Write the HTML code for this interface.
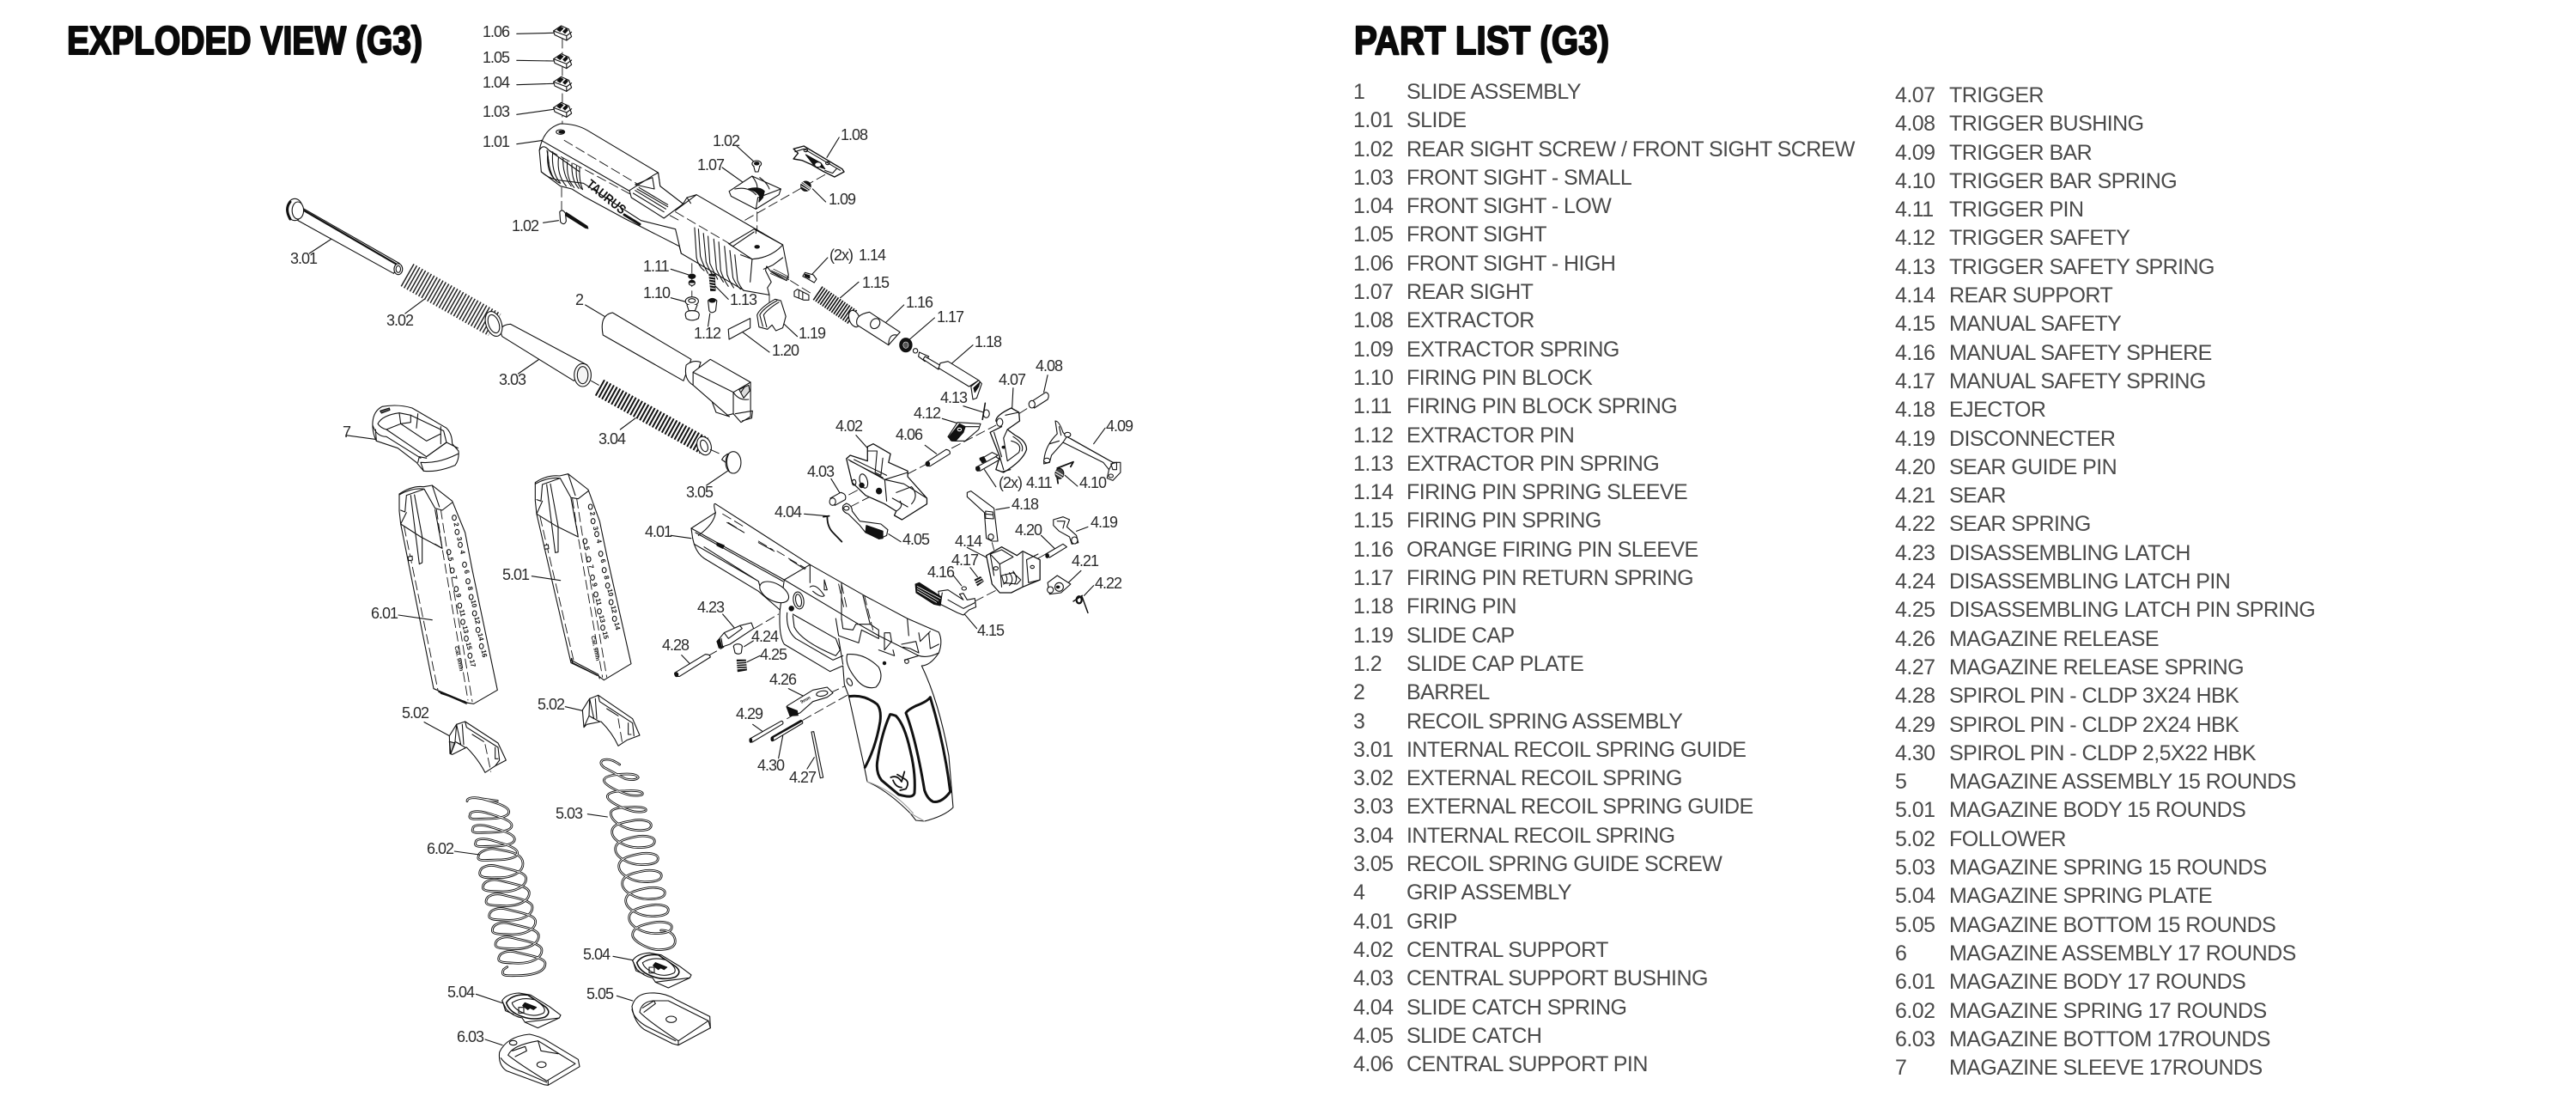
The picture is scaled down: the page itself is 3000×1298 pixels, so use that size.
<!DOCTYPE html>
<html><head><meta charset="utf-8"><style>
html,body{margin:0;padding:0;background:#fff}
body{width:3000px;height:1298px;position:relative;overflow:hidden}
svg{position:absolute;left:0;top:0}
svg path,svg line,svg ellipse,svg polygon,svg polyline,svg circle,svg rect{vector-effect:non-scaling-stroke}
.t{font:bold 46px "Liberation Sans",sans-serif;fill:#0a0a0a;stroke:#0a0a0a;stroke-width:2px}
.l text,text.l{font:18px "Liberation Sans",sans-serif;fill:#2a2a2a;letter-spacing:-1px}
.d{stroke-dasharray:11 5;stroke-width:.9;fill:none}
.n{fill:none}
.k{fill:#111}
.z{fill:none;stroke:#1a1a1a}
.h{stroke-width:3;fill:none}
.mn text{font:bold 24px "Liberation Sans",sans-serif;fill:#111;stroke:none}
.col{position:absolute;font:25px/33.3px "Liberation Sans",sans-serif;color:#4a4a4a;letter-spacing:-.55px;white-space:nowrap}
.col span{display:inline-block;width:62px}
</style></head><body>
<svg width="3000" height="1298" viewBox="0 0 3000 1298" fill="#fff" stroke="#111" stroke-width="1.1" stroke-linejoin="round" stroke-linecap="round">
<defs>
<g id="sight"><path d="M772,108 L792,90 L812,102 L819,128 L806,141 L775,122 Z"/><path class="k" d="M782,104 L790,94 L797,99 L789,110 Z M797,110 L805,100 L809,106 L802,116 Z"/><path class="n" d="M772,108 L806,125 L806,141 M806,125 L819,112"/></g>
<g id="plate"><path d="M950,805 Q965,780 1010,778 L1050,785 L1115,825 L1155,855 L1150,865 L1075,900 L1030,880 L1020,865 Q990,860 965,835 Z"/><path d="M965,812 Q985,780 1040,785 L1100,825 Q1125,845 1100,862 Q1060,875 1020,860 Q975,845 965,812 Z" stroke-width="1.6"/><path d="M985,812 Q1020,790 1065,802 Q1110,830 1095,848 Q1065,862 1035,852 Q990,835 985,812 Z"/><path class="k" d="M1030,812 L1070,828 L1060,836 L1048,830 L1040,836 L1022,822 Z"/><rect x="1008" y="828" width="18" height="20" class="n"/><path class="n" d="M952,808 L962,840 L990,852 M1030,880 L1150,865"/></g>
</defs>
<text class="t" x="78" y="63" textLength="414" lengthAdjust="spacingAndGlyphs">EXPLODED VIEW (G3)</text>
<text class="t" x="1577" y="63" textLength="297" lengthAdjust="spacingAndGlyphs">PART LIST (G3)</text>

<!-- ZOOM 1 SPACE -->
<g transform="translate(300,0) scale(.44643,.33333)">
<path class="d" d="M795,135 V455 M793,655 V735 M1480,610 L1270,770 M1303,740 V850 M1133,920 V1040 M1335,1030 V1065 M1390,980 L1450,1030"/>
<use href="#sight"/><use href="#sight" y="98"/><use href="#sight" y="178"/><use href="#sight" y="268"/>
<path d="M676,118 L772,115 M676,211 L772,213 M676,296 L772,292 M676,400 L772,382 M676,503 L745,490 M745,778 L785,770 M1250,510 L1295,565 M1212,585 L1280,650 M1485,550 L1517,480 M1448,660 L1482,705 M1078,940 L1125,960 M1078,1040 L1120,1055 M1195,1000 L1228,1045 M1180,1095 L1175,1140 M1360,1115 L1408,1175 M1260,1155 L1335,1230 M1445,960 L1487,900 M1520,1040 L1568,985 M855,1065 L905,1105 M215,815 L135,885 M435,1045 L385,1095 M745,1245 L680,1305"/>
<!-- slide -->
<path d="M740,600 L735,525 Q745,450 790,432 Q830,432 860,455 L1045,603 L1050,650 L1110,712 L1120,690 L1145,680 L1370,855 L1385,960 L1380,980 L1340,950 L1328,930 L1325,945 L1340,985 L1330,1005 L1335,1030 L1270,1015 L1105,885 L1100,860 L1005,795 L960,765 L850,685 L820,660 L790,650 Z"/>
<path class="n" d="M740,600 Q760,625 790,630 L850,640 L1000,770 L1090,800 L1105,885 M735,525 Q745,500 760,525 L840,600 M740,490 L1000,690 M755,525 L760,570"/>
<path class="d" d="M760,525 L1100,770 M800,490 L1000,650 M1090,740 L1230,850"/>
<path class="n" d="M757,530 Q752,600 778,630 M770,530 Q765,600 790,640 Q762,630 757,540 M785,550 Q780,610 805,650 M797,553 Q795,610 818,650 M808,565 Q805,625 826,655 M820,570 Q818,630 838,658 M832,580 Q828,630 845,660 M840,585 Q838,630 848,662"/>
<path d="M790,455 m-11,6 a11,8 0 1,0 22,0 a11,8 0 1,0 -22,0" class="n"/><ellipse cx="793" cy="461" rx="7" ry="4" class="k"/>
<!-- ejection port -->
<path d="M970,665 L1035,610 L1045,603 L1050,650 L1110,712 L1060,762 L975,690 Z"/>
<path class="n" d="M985,645 L1030,620 L1035,660 Z M985,665 L1065,730 M990,660 L1070,722 M980,675 L1060,740 M995,655 L1070,715"/>
<path class="n" d="M1090,735 L1145,680 M1120,690 L1130,710"/>
<!-- rear serrations -->
<path class="n" d="M1140,795 L1145,900 Q1150,930 1165,945 M1150,800 L1155,895 Q1162,925 1175,955 M1163,815 L1170,915 Q1178,945 1190,965 M1175,825 L1180,920 Q1190,950 1200,975 M1190,835 L1197,940 Q1205,965 1215,985 M1203,845 L1208,945 Q1215,975 1228,1000 M1218,860 L1225,960 Q1232,985 1242,1005 M1232,875 L1240,970 Q1248,995 1260,1010 M1245,890 L1252,980 Q1258,1000 1268,1015"/>
<path d="M1230,852 L1295,800 L1370,855 Q1340,900 1290,905 Z"/>
<path class="n" d="M1228,850 L1240,860 L1295,810 M1260,890 L1290,905 L1285,985 M1300,800 V815"/>
<ellipse cx="1303" cy="862" rx="6" ry="5" class="k"/>
<path class="n" stroke-width=".8" d="M1340,945 L1386,972 M1342,950 L1386,977 M1346,940 L1386,967 M1338,955 L1380,980"/>
<path class="n" d="M1320,940 L1345,925 L1370,900"/>
<!-- rear sight -->
<path d="M1230,668 L1290,615 L1365,660 L1360,680 L1300,730 L1235,685 Z"/>
<path class="n" d="M1290,615 Q1310,650 1300,665 M1245,660 Q1280,650 1300,680 M1300,730 L1305,690 L1365,660 M1310,620 Q1330,640 1335,660"/>
<path class="k" d="M1280,660 Q1310,650 1322,668 L1318,690 L1308,705 L1310,685 Q1300,665 1280,660Z"/>
<!-- screw 1.02 -->
<ellipse cx="1302" cy="572" rx="12" ry="11"/><path d="M1294,580 L1298,600 L1306,600 L1310,580"/><ellipse cx="1302" cy="571" rx="6" ry="5" class="k"/>
<!-- extractor -->
<path d="M1398,520 L1425,510 L1525,590 L1530,600 L1505,618 L1475,598 L1445,575 L1420,560 L1398,555 L1410,535 Z" stroke-width="1.4"/>
<path class="k" d="M1430,540 L1470,570 L1480,590 L1450,575 Z"/><circle cx="1462" cy="575" r="9"/><circle cx="1430" cy="525" r="5" class="n"/><circle cx="1487" cy="570" r="5" class="n"/>
<path class="n" d="M1402,530 L1425,520 L1520,595 M1480,595 L1500,605 L1510,590"/>
<!-- spring 1.09 -->
<ellipse cx="1430" cy="650" rx="13" ry="17" class="k"/><path d="M1418,640 L1440,660 M1422,636 L1442,656 M1418,650 L1436,664" stroke="#fff"/>
<!-- lower 1.02 -->
<path d="M788,740 Q795,728 803,745 L805,772 Q800,790 790,775 Z"/><path class="k" d="M805,742 L860,790 L862,798 L855,796 L803,752 Z"/>
<!-- 1.11/1.10/1.12/1.13 -->
<ellipse cx="1133" cy="965" rx="9" ry="8" class="k"/><ellipse cx="1133" cy="988" rx="8" ry="9"/><path class="k" d="M1127,982 h12 v5 h-12z"/>
<ellipse cx="1133" cy="1052" rx="17" ry="15"/><ellipse cx="1133" cy="1050" rx="9" ry="7" class="n"/><path d="M1120,1065 L1125,1085 L1141,1085 L1147,1065"/><path d="M1116,1100 Q1115,1085 1133,1085 Q1152,1085 1152,1100 L1150,1112 Q1133,1125 1118,1112 Z"/>
<path class="k" d="M1178,958 L1192,958 L1194,1015 L1182,1015 Z"/><path d="M1178,965 L1192,968 M1178,975 L1192,978 M1180,985 L1192,988 M1180,995 L1192,998 M1180,1005 L1193,1008" stroke="#fff"/>
<path d="M1175,1050 Q1186,1035 1198,1050 L1195,1085 Q1185,1098 1178,1085 Z"/><ellipse cx="1186" cy="1050" rx="8" ry="6" class="k"/>
<!-- 1.19/1.20 -->
<path d="M1303,1100 Q1310,1075 1350,1045 L1365,1050 L1378,1105 L1370,1145 L1352,1155 L1342,1135 L1330,1150 L1308,1142 Z"/>
<path class="n" d="M1318,1140 L1310,1100 Q1320,1075 1355,1050 M1328,1142 L1320,1100 Q1330,1080 1360,1055"/>
<path d="M1228,1150 L1285,1112 L1285,1145 L1230,1185 Z"/>
<!-- firing pin block etc -->
<path d="M1422,965 L1428,952 L1450,960 L1458,975 L1452,987 L1430,970 Z"/><path class="k" d="M1428,958 L1440,962 L1440,972 L1428,965Z"/>
<path d="M1400,1018 L1408,1010 L1438,1030 L1438,1048 L1425,1048 L1400,1035 Z"/><path class="n" d="M1412,1014 L1412,1040 M1422,1020 L1422,1045"/>
<!-- recoil guide 3.01 -->
<path d="M115,725 L370,920 L355,955 L105,770 Z"/><path class="n" d="M118,733 L365,925" stroke-width="2.2"/>
<ellipse cx="97" cy="732" rx="21" ry="38"/><ellipse cx="105" cy="735" rx="15" ry="30"/><path class="h" d="M85,705 Q70,730 85,765"/>
<ellipse cx="367" cy="940" rx="11" ry="19"/><ellipse cx="367" cy="940" rx="6" ry="12" class="n"/>
<!-- 3.03 -->
<path d="M660,1132 L860,1275 L825,1330 L638,1175 Q625,1135 660,1132 Z"/>
<ellipse cx="848" cy="1310" rx="22" ry="40"/><ellipse cx="848" cy="1310" rx="14" ry="30" fill="#f5f5f5"/>
<path class="d" d="M870,1330 L890,1345"/>
</g>

<!-- absolute springs -->
<line x1="474" y1="320" x2="576" y2="378" stroke="#222" stroke-width="30" stroke-dasharray="1.5 2.4" stroke-linecap="butt"/>
<ellipse cx="575" cy="377" rx="9" ry="15" transform="rotate(-20 575 377)"/><ellipse cx="575" cy="377" rx="6" ry="11" transform="rotate(-20 575 377)"/>
<line x1="952" y1="341" x2="994" y2="370" stroke="#111" stroke-width="19" stroke-dasharray="1.6 1.6" stroke-linecap="butt"/>
<ellipse cx="995" cy="371" rx="6" ry="10" transform="rotate(-20 995 371)"/>
<line x1="698" y1="451" x2="820" y2="519" stroke="#111" stroke-width="21" stroke-dasharray="2 2.2" stroke-linecap="butt"/>
<ellipse cx="820" cy="519" rx="8" ry="11" transform="rotate(-20 820 519)"/><ellipse cx="820" cy="519" rx="4" ry="7" transform="rotate(-20 820 519)"/>

<!-- TAURUS -->
<text transform="translate(682,216) rotate(39)" style="font:bold 15px 'Liberation Sans',sans-serif" fill="#111" stroke="none" textLength="54" lengthAdjust="spacingAndGlyphs">TAURUS</text>
<line x1="727" y1="250" x2="745" y2="261" stroke="#111" stroke-width="3" stroke-dasharray="2 1"/>

<!-- ZOOM 2 SPACE -->
<g transform="translate(700,350) scale(.44643,.33333)">
<path class="d" d="M615,700 L700,640 M650,720 L730,665 M800,605 L850,570 M915,515 L1030,435 M1090,395 L1125,365 M1140,900 L1160,885 M1020,845 L1025,870 M975,1050 L1040,1005 M285,520 L310,535 M280,1240 L320,1210"/>
<path d="M330,595 L275,645 M90,410 L50,450 M740,80 L790,15 M805,135 L870,60 M910,225 L970,155 M1075,305 L1072,380 M1165,260 L1155,320 M945,368 L998,390 M890,412 L930,428 M845,505 L875,535 M695,515 L665,470 M600,622 L622,670 M530,745 L590,752 M750,815 L782,842 M1000,590 L1030,650 M1285,500 L1315,445 M1210,610 L1243,648 M1030,730 L1065,722 M1240,805 L1270,790 M1185,868 L1148,820 M955,862 L1010,900 M963,932 L982,965 M918,958 L940,995 M945,1090 L980,1145 M1215,990 L1252,943 M1260,1030 L1285,995 M182,820 L235,830 M210,1238 L240,1280 M835,1285 L855,1350"/>
<!-- barrel -->
<path d="M5,120 Q-5,50 30,42 L235,205 L215,280 Z"/>
<path d="M222,225 Q240,205 260,215 L240,295 Q215,275 222,225 Z"/>
<path d="M240,250 L285,205 L390,285 L390,405 L365,425 L345,395 L330,400 L240,295 Z"/>
<path class="n" d="M240,250 L345,320 L390,285 M345,320 L345,395 M365,320 L375,300 M345,320 Q360,350 385,345 M350,395 L395,385 L393,410 L368,420 M290,355 L300,390 L335,405 L328,400"/>
<path class="k" d="M360,310 L385,295 L388,315 L372,340 Z" fill-opacity=".15"/>
<!-- 1.16 -->
<path d="M700,40 L780,110 L770,125 L750,155 L668,85 Q660,50 700,40 Z"/><ellipse cx="715" cy="80" rx="12" ry="18" transform="rotate(15 715 80)"/><path class="n" d="M750,155 Q750,115 772,120"/>
<!-- 1.17 -->
<ellipse cx="795" cy="155" rx="16" ry="24" class="k"/><ellipse cx="795" cy="155" rx="7" ry="11" stroke="#fff" stroke-width=".6" fill="#555"/>
<!-- 1.18 -->
<ellipse cx="820" cy="175" rx="6" ry="8"/><path d="M830,180 L855,195 L845,212 L828,195 Z"/><path d="M845,195 L890,230 L880,240 L840,205 Z"/><path d="M885,218 Q880,240 880,235 L960,300 L985,278 L905,212 Z"/>
<path d="M965,300 L985,278 L993,290 L980,340 L970,345 Z"/><path class="k" d="M972,305 L988,285 L985,300 L975,320Z"/>
<!-- 3.05 -->
<path d="M320,545 L315,555 L325,565 L340,560 L330,535 Z"/><ellipse cx="345" cy="565" rx="20" ry="38"/><path class="n" d="M333,535 Q322,565 335,598"/>
<!-- 4.08 -->
<path d="M1120,355 L1160,320 Q1172,325 1165,345 L1130,375 Z"/><ellipse cx="1124" cy="362" rx="8" ry="13"/>
<!-- 4.13 -->
<ellipse cx="1005" cy="395" rx="8" ry="14"/><path d="M1002,358 L995,415" stroke-width="1.6"/>
<!-- 4.12 -->
<path d="M905,475 L930,425 L990,430 L985,450 L950,490 L915,490 Z"/><path class="k" d="M908,475 L935,430 L950,440 L945,460 L925,490 L912,488Z"/><circle cx="935" cy="450" r="5" stroke="#fff" class="n"/><path class="n" d="M950,440 L985,440"/>
<!-- 4.06 -->
<path d="M848,565 L900,520 Q912,522 910,535 L858,578 Q845,578 848,565 Z"/><ellipse cx="852" cy="570" rx="5" ry="8" class="k"/>
<!-- 4.07 -->
<path d="M1030,420 Q1030,400 1070,375 L1090,390 L1092,420 L1060,450 L1080,470 Q1110,490 1110,520 Q1100,560 1050,600 L1030,590 L1040,545 L1015,460 L1045,440 Z" stroke-width="1.3"/>
<ellipse cx="1040" cy="425" rx="8" ry="14"/><path class="n" d="M1055,400 L1090,390 M1060,450 L1050,480 L1060,560 L1090,530 Q1100,500 1070,490 M1040,545 L1050,590 M1068,590 L1045,598 M1025,460 L1045,545 M1075,475 Q1105,500 1098,525"/><circle cx="1050" cy="512" r="4" class="k"/>
<!-- 4.11 pins -->
<path d="M988,555 L1020,530 L1035,540 L1000,570 Z"/><path class="k" d="M988,550 L998,545 L1004,560 L994,566Z"/>
<path d="M978,582 L1030,545 L1040,555 L988,595 Z"/><ellipse cx="983" cy="587" rx="5" ry="8" class="k"/>
<!-- 4.09 -->
<path d="M1185,420 Q1195,420 1205,460 L1215,475 L1335,565 L1355,565 L1355,600 L1335,628 L1320,620 L1325,590 L1310,565 L1205,495 L1175,540 L1170,565 L1155,570 Q1155,510 1190,465 Z"/>
<path class="n" d="M1215,475 L1205,495 M1225,482 L1335,565 L1325,590 M1170,500 L1195,490 M1195,440 L1200,470"/><circle cx="1217" cy="468" r="8"/><circle cx="1163" cy="558" r="8"/><circle cx="1330" cy="612" r="6"/><path class="n" d="M1330,570 L1345,565 L1345,590 L1335,590 Z"/>
<!-- 4.10 -->
<ellipse cx="1196" cy="604" rx="11" ry="18" fill="#444"/><path d="M1186,595 L1205,610 M1186,605 L1205,620" stroke="#fff"/><path class="n" stroke-width="1.8" d="M1190,585 L1232,563 L1225,580 M1190,620 L1192,638"/>
<!-- 4.02 -->
<path d="M640,552 L650,540 L695,560 L695,510 L710,500 L755,535 L750,565 L800,595 L800,615 L850,690 L850,710 L785,765 L765,750 L770,735 L740,710 L690,680 L655,635 Z" stroke-width="1.3"/>
<path class="n" d="M645,555 L740,625 L800,600 M740,625 L745,700 M650,560 L735,618 M660,555 L745,610 M720,525 L715,600 L730,610 L735,550 M695,525 L720,525 M740,625 L790,640 L850,690 M770,670 L810,650 Q830,680 810,710 M770,735 Q790,720 780,700 M760,690 L800,720"/>
<ellipse cx="685" cy="630" rx="10" ry="25" transform="rotate(-10 685 630)"/><ellipse cx="680" cy="645" rx="6" ry="8" class="k"/><ellipse cx="660" cy="635" rx="5" ry="10" class="n"/><ellipse cx="725" cy="665" rx="7" ry="10" class="k"/>
<!-- 4.03 -->
<path d="M598,690 L625,670 Q642,675 637,695 L610,715 Z"/><ellipse cx="604" cy="702" rx="8" ry="13"/>
<!-- 4.04 -->
<path class="n" stroke-width="1.8" d="M580,755 L595,752 M590,755 Q590,790 605,810 L628,842"/>
<!-- 4.05 -->
<path d="M640,708 Q655,715 655,735 L675,770 L730,780 L748,800 L745,820 L725,832 L690,810 L675,785 L645,745 Q625,735 632,715 Z"/><circle cx="640" cy="725" r="7" class="n"/><path class="k" d="M692,785 L735,805 L735,830 L725,832 L690,808 Z"/>
<!-- 4.18 -->
<path d="M955,670 L965,665 L1025,725 L1035,840 L1020,840 L1005,830 L1000,740 L955,685 Z"/><ellipse cx="1017" cy="825" rx="7" ry="10"/><path class="n" d="M1003,735 L1022,738 L1024,762 L1003,760Z M1003,745 L1023,748"/>
<!-- 4.19 -->
<path d="M1180,765 L1205,755 L1222,765 L1215,790 L1240,820 L1245,845 L1228,850 L1222,825 L1195,805 L1180,785 Z"/><ellipse cx="1235" cy="837" rx="8" ry="12"/><path class="n" d="M1190,770 L1210,770 L1205,795"/>
<!-- 4.20 -->
<path d="M1160,885 L1205,850 L1215,860 L1170,897 Z"/><ellipse cx="1164" cy="891" rx="4" ry="7" class="k"/>
<!-- 4.14 -->
<path d="M1005,890 L1045,860 L1085,890 L1100,875 L1145,905 L1145,975 L1100,1000 L1070,1020 L1040,1020 L1020,990 Z" stroke-width="1.3"/>
<path class="n" d="M1015,885 L1045,870 L1075,895 L1040,920 Z M1015,885 L1025,960 M1040,920 L1045,1000 M1100,880 L1100,1000 M1110,905 L1140,885 M1110,905 L1115,985 L1145,975"/>
<path class="n" d="M1045,960 L1075,950 L1095,975 L1085,990 L1050,985Z M1055,955 Q1065,980 1050,990 M1065,950 Q1080,975 1065,995 M1075,945 Q1090,970 1078,990"/><circle cx="1030" cy="935" r="6" class="n"/><circle cx="1125" cy="930" r="5" class="n"/>
<!-- 4.17/4.16 -->
<path class="k" d="M975,975 L990,965 L997,980 L982,995 Z"/><path d="M975,982 L992,970 M978,990 L995,978" stroke="#fff"/><circle cx="947" cy="1005" r="6"/>
<!-- 4.15 -->
<path d="M880,1015 L905,1010 L945,1045 L935,1025 L945,1022 L955,1045 L975,1040 L978,1070 L960,1080 L945,1098 L930,1090 L885,1060 Z"/>
<path class="k" d="M820,990 L830,985 L888,1035 L885,1065 L868,1060 L822,1020 Z"/><path d="M825,998 L885,1040 M825,1006 L880,1048 M825,1014 L875,1054" stroke="#fff" stroke-width=".8"/>
<path class="n" d="M890,1020 L885,1060 M905,1045 L945,1075 L975,1055"/>
<!-- 4.21 -->
<path d="M1165,985 L1190,960 L1225,990 L1200,1020 L1170,1025 Z"/><ellipse cx="1195" cy="1000" rx="11" ry="15"/><ellipse cx="1172" cy="1010" rx="8" ry="11"/><circle cx="1192" cy="1000" r="4" class="k"/>
<!-- 4.22 -->
<ellipse cx="1247" cy="1045" rx="8" ry="14" class="k"/><ellipse cx="1247" cy="1045" rx="3" ry="7" stroke="#fff"/><path class="n" stroke-width="1.5" d="M1255,1035 L1270,1090 M1232,1050 L1255,1030"/>
<!-- 4.28 -->
<path d="M192,1300 L272,1235 Q285,1235 285,1245 L205,1312 Q190,1315 192,1300 Z"/><ellipse cx="197" cy="1306" rx="4" ry="7" class="k"/>
</g>

<!-- ZOOM 3 SPACE -->
<g transform="translate(350,450) scale(.33333)">
<!-- 7 sleeve -->
<path d="M158,170 L303,190"/>
<path d="M252,125 Q255,85 285,70 Q340,60 390,75 L510,145 Q530,165 530,200 L552,225 Q555,255 540,275 Q480,300 430,295 L405,265 L340,215 L265,190 Q250,160 252,125 Z"/>
<path d="M270,130 Q285,100 345,92 L385,100 L500,155 L510,195 L440,245 L300,150 Q280,145 270,130 Z"/>
<path class="n" d="M252,135 Q265,175 300,175 L420,250 M345,92 L350,130 L300,150 M385,100 L385,125 L350,130 L440,190 L490,165 M410,95 L405,145 M490,140 L490,200 M440,245 L510,195 L550,215 M430,295 L420,265 Q480,270 550,235 M265,190 L262,150 M410,265 L415,245 L440,250"/>
<path class="k" d="M278,85 L310,75 L312,82 L283,93Z" fill-opacity=".7"/>
<!-- mag 6 -->
<path d="M345,375 L345,435 L350,480 L465,1055 L585,1105 L605,1108 L688,1060 L600,640 L575,510 L530,400 L460,345 L430,350 Q390,345 345,375 Z"/>
<path class="n" d="M345,378 Q390,352 432,358 L470,425 L495,432 L530,405 M460,345 L485,420 M432,358 L370,380 L365,438 L350,432 M385,380 L415,620 L425,615 L425,525 M398,378 L425,525 M350,480 L420,525 L495,565 L470,430 M470,550 L495,565 M350,480 L370,440 M465,1055 L585,1105 M485,1065 L580,1108 M490,1072 L575,1100"/>
<path class="d" d="M362,490 L480,1060 M475,430 L495,565 L585,1095 M490,430 L510,560 L600,1100"/>
<path stroke-width="1.5" class="n" d="M483,1066 L578,1106"/>
<path d="M375,595 L390,592 L391,606 L378,608 Z"/>
<path d="M342,798 L460,815"/>
<g class="n"><ellipse cx="537" cy="458" rx="7" ry="9"/><ellipse cx="547" cy="508" rx="7" ry="9"/><ellipse cx="558" cy="553" rx="7" ry="9"/><ellipse cx="518" cy="578" rx="7" ry="9"/><ellipse cx="530" cy="642" rx="7" ry="9"/><ellipse cx="573" cy="622" rx="7" ry="9"/><ellipse cx="585" cy="680" rx="7" ry="9"/><ellipse cx="544" cy="707" rx="7" ry="9"/><ellipse cx="596" cy="735" rx="7" ry="9"/><ellipse cx="556" cy="765" rx="7" ry="9"/><ellipse cx="608" cy="792" rx="7" ry="9"/><ellipse cx="567" cy="822" rx="7" ry="9"/><ellipse cx="620" cy="850" rx="7" ry="9"/><ellipse cx="579" cy="880" rx="7" ry="9"/><ellipse cx="632" cy="907" rx="7" ry="9"/><ellipse cx="592" cy="940" rx="7" ry="9"/></g>
<g class="mn"><text transform="translate(535,477) rotate(78)">2</text><text transform="translate(546,527) rotate(78)">3</text><text transform="translate(557,573) rotate(78)">4</text><text transform="translate(516,598) rotate(78)">5</text><text transform="translate(529,662) rotate(78)">7</text><text transform="translate(572,642) rotate(78)">6</text><text transform="translate(584,700) rotate(78)">8</text><text transform="translate(543,725) rotate(78)">9</text><text transform="translate(595,747) rotate(78)">10</text><text transform="translate(555,780) rotate(78)">11</text><text transform="translate(607,805) rotate(78)">12</text><text transform="translate(566,837) rotate(78)">13</text><text transform="translate(619,863) rotate(78)">14</text><text transform="translate(578,895) rotate(78)">15</text><text transform="translate(631,921) rotate(78)">16</text><text transform="translate(591,955) rotate(78)">17</text><text transform="translate(538,908) rotate(78)" style="font-size:20px">Cal. 9mm</text></g>
<!-- mag 5 -->
<path d="M820,335 L820,398 L825,445 L945,965 L1040,1010 L1060,1025 L1155,968 L1070,590 L1045,470 L1005,360 L935,305 L905,312 Q860,308 820,335 Z"/>
<path class="n" d="M820,340 Q865,315 907,320 L945,388 L970,392 L1005,365 M935,305 L960,380 M907,320 L845,342 L840,400 L825,395 M860,342 L890,580 L900,578 L900,488 M873,340 L900,488 M825,445 L895,488 L970,525 L945,390 M825,445 L845,400 M945,955 L1040,1005 L1045,1020"/>
<path class="d" d="M837,455 L955,960 M950,392 L970,525 L1055,1015 M965,392 L985,520 L1070,1015"/>
<path stroke-width="1.5" class="n" d="M947,950 L950,965 L1035,1008"/>
<path d="M851,555 L865,552 L867,566 L853,568 Z"/>
<path d="M808,662 L908,677"/>
<g class="n"><ellipse cx="1013" cy="420" rx="7" ry="9"/><ellipse cx="1022" cy="470" rx="7" ry="9"/><ellipse cx="1035" cy="515" rx="7" ry="9"/><ellipse cx="994" cy="540" rx="7" ry="9"/><ellipse cx="1007" cy="603" rx="7" ry="9"/><ellipse cx="1049" cy="584" rx="7" ry="9"/><ellipse cx="1061" cy="641" rx="7" ry="9"/><ellipse cx="1020" cy="667" rx="7" ry="9"/><ellipse cx="1073" cy="695" rx="7" ry="9"/><ellipse cx="1032" cy="726" rx="7" ry="9"/><ellipse cx="1085" cy="753" rx="7" ry="9"/><ellipse cx="1044" cy="785" rx="7" ry="9"/><ellipse cx="1097" cy="811" rx="7" ry="9"/><ellipse cx="1056" cy="842" rx="7" ry="9"/></g>
<g class="mn"><text transform="translate(1011,439) rotate(78)">2</text><text transform="translate(1022,490) rotate(78)">3</text><text transform="translate(1034,535) rotate(78)">4</text><text transform="translate(992,560) rotate(78)">5</text><text transform="translate(1006,624) rotate(78)">7</text><text transform="translate(1048,604) rotate(78)">6</text><text transform="translate(1060,662) rotate(78)">8</text><text transform="translate(1019,687) rotate(78)">9</text><text transform="translate(1072,708) rotate(78)">10</text><text transform="translate(1031,741) rotate(78)">11</text><text transform="translate(1084,767) rotate(78)">12</text><text transform="translate(1043,800) rotate(78)">13</text><text transform="translate(1096,825) rotate(78)">14</text><text transform="translate(1055,857) rotate(78)">15</text><text transform="translate(1015,872) rotate(78)" style="font-size:20px">Cal. 9mm</text></g>
<!-- followers -->
<path d="M432,1172 L520,1220 M925,1118 L985,1132"/>
<path d="M522,1282 L520,1220 L545,1180 L575,1170 L690,1245 L718,1305 L680,1325 L645,1348 Q620,1300 580,1260 L530,1285 Z"/>
<path class="n" d="M545,1180 L540,1240 L525,1282 M545,1180 L560,1250 L540,1240 L575,1260 M575,1170 L580,1190 L690,1260 L695,1305 L680,1325 M565,1180 L570,1250 M600,1215 L640,1240 M680,1260 L680,1300 L690,1300"/>
<path class="k" d="M520,1240 L540,1245 L525,1282Z" fill-opacity=".25"/>
<path class="d" d="M645,1250 L665,1345"/>
<path d="M990,1190 L985,1130 L1010,1090 L1040,1078 L1160,1160 L1185,1218 L1140,1235 L1110,1255 Q1090,1210 1050,1170 L1000,1180 Z"/>
<path class="n" d="M1010,1090 L1008,1150 L990,1190 M1010,1090 L1025,1160 L1008,1150 L1045,1170 M1040,1078 L1045,1100 L1160,1175 L1165,1220 M1030,1090 L1035,1160 M1070,1125 L1110,1150 M1145,1175 L1145,1215 L1155,1215"/>
<path class="d" d="M1110,1160 L1125,1250"/>
</g>

<!-- ZOOM 4 SPACE -->
<g transform="translate(420,850) scale(.33333)">
<defs>
<path id="s602" d="M478,247 L400,236 Q372,236 372,248
c0,-14 30,-15 55,-8 c40,12 91,25 91,45 c0,18 -40,24 -70,24 c-35,0 -76,8 -66,-13
c0,-14 30,-15 55,-8 c40,12 91,25 91,45 c0,18 -40,24 -70,24 c-35,0 -76,8 -66,-13
c0,-14 30,-15 55,-8 c40,12 91,25 91,45 c0,18 -40,24 -70,24 c-35,0 -76,8 -66,-13
c0,-14 30,-15 55,-8 c40,12 91,25 91,45 c0,18 -40,24 -70,24 c-35,0 -76,8 -66,-13
c0,-15 35,-30 60,-25 c35,8 95,10 95,52 c0,30 -40,48 -80,48 c-30,0 -71,5 -71,-15
c0,-25 35,-32 60,-25 c35,10 102,18 102,43 c0,30 -40,46 -80,46 c-30,-2 -71,1 -71,-14
c0,-25 35,-32 60,-25 c35,10 102,18 102,43 c0,30 -40,46 -80,46 c-30,-2 -71,1 -71,-14
c0,-25 35,-32 60,-25 c35,10 102,18 102,43 c0,30 -40,46 -80,46 c-30,-2 -71,1 -71,-14
c0,-25 35,-32 60,-25 c35,10 102,18 102,43 c0,30 -40,46 -80,46 c-30,-2 -71,1 -71,-14
c0,-25 35,-32 60,-25 c35,10 102,18 102,43 c0,30 -40,46 -80,46 c-30,-2 -71,1 -71,-14
c0,-25 35,-32 60,-25 c35,10 102,18 102,43 c0,30 -40,46 -80,46 c-30,-2 -71,1 -71,-14
c0,-25 35,-32 60,-25 c35,10 103,18 103,40 c0,35 -60,42 -100,42 c-30,0 -60,5 -45,-22 l12,-8"/>
<path id="s503" d="M905,120 Q870,95 845,105 Q832,115 850,130 L925,170 Q960,178 970,165 Q965,153 930,153 Q852,155 850,175
c0,15 50,42 92,52 c20,3 43,2 43,-5 c0,-10 -30,-12 -60,-10 c-30,0 -63,5 -63,20
c0,15 50,42 92,52 c20,3 43,2 43,-5 c0,-10 -30,-12 -60,-10 c-30,0 -63,5 -63,20
c0,30 45,55 85,60 c30,3 56,0 56,-17 c0,-18 -40,-22 -70,-15 c-30,6 -67,10 -67,38
c0,30 50,55 90,55 c35,0 59,-5 59,-22 c0,-18 -40,-22 -70,-15 c-30,6 -67,15 -67,42
c0,30 50,55 90,55 c35,0 59,-5 59,-22 c0,-18 -40,-22 -70,-15 c-30,6 -67,15 -67,42
c0,30 50,55 90,55 c35,0 59,-5 59,-22 c0,-18 -40,-22 -70,-15 c-30,6 -67,15 -67,42
c0,30 50,55 90,55 c35,0 59,-5 59,-22 c0,-18 -40,-22 -70,-15 c-30,6 -67,15 -67,42
c0,30 50,55 90,55 c35,0 59,-5 59,-22 c0,-18 -40,-22 -70,-15 c-30,6 -67,15 -67,42
c0,30 50,55 90,55 c35,0 59,-5 59,-22 c0,-18 -40,-22 -70,-15 c-30,6 -67,15 -67,42
c0,20 50,50 90,52 c30,0 59,-5 59,-30 c0,-25 -25,-40 -50,-38"/>
</defs>
<use href="#s602" fill="none" stroke="#111" stroke-width="2.7"/><use href="#s602" fill="none" stroke="#fff" stroke-width=".9"/>
<use href="#s503" fill="none" stroke="#111" stroke-width="2.7"/><use href="#s503" fill="none" stroke="#fff" stroke-width=".9"/>
<path d="M328,423 L415,435 M793,293 L862,303 M882,790 L950,803 M403,922 L495,953 M895,928 L950,945 M435,1080 L495,1100"/>
<use href="#plate"/><use href="#plate" x="-456" y="140"/>
<path d="M948,965 Q960,920 1010,918 Q1060,915 1100,940 L1220,1000 L1222,1040 L1110,1100 L1090,1095 L990,1045 Q955,1020 948,965 Z"/>
<path d="M975,985 Q980,950 1020,945 L1075,945 L1215,1015 L1110,1085 Q1010,1020 975,985 Z"/>
<path class="n" d="M985,970 L1025,945 L1030,955 L990,985 M948,975 Q955,1010 1000,1035 L1100,1085 M1110,1085 L1110,1100 M1215,1015 L1222,1040"/>
<ellipse cx="1085" cy="1010" rx="18" ry="11"/>
<path d="M485,1125 Q510,1070 590,1062 Q630,1070 660,1090 L760,1150 L765,1175 L655,1240 L640,1238 L510,1190 Q480,1170 485,1125 Z"/>
<path d="M515,1135 Q530,1100 620,1085 L750,1165 L650,1225 Q560,1170 515,1135 Z"/>
<path class="n" d="M530,1120 L575,1105 L580,1120 L540,1140 M490,1145 Q510,1175 570,1195 L650,1230 M655,1225 L655,1240 M620,1085 L630,1120 L690,1130"/>
<ellipse cx="632" cy="1168" rx="16" ry="10"/><ellipse cx="533" cy="1092" rx="13" ry="8"/>
</g>

<!-- ZOOM 7 SPACE: grip -->
<g transform="translate(800,600) scale(.33333)">
<path class="d" d="M235,395 L320,345 M500,620 L565,590 M350,710 L410,675 M620,555 L690,515 M405,715 L770,510"/>
<!-- grip body -->
<path d="M15,45 L100,-10 Q90,-45 100,-40 L430,172 L620,280 L770,360 L880,408 Q895,440 880,480 Q850,525 820,525 Q880,650 915,840 L930,1020 Q900,1050 830,1068 L800,1065 L780,1040 Q700,960 630,930 L620,880 L565,630 L550,590 L545,525 L500,545 L340,450 Q320,420 325,330 L250,265 L60,150 Q30,130 20,80 Z"/>
<path class="n" d="M15,45 L340,225 L600,380 L670,420 L810,490 M30,60 L335,230 M100,-10 Q95,30 40,70 M25,100 L250,230 L260,265 M60,110 L250,230 M340,225 L325,330 M340,225 L430,172 L430,235 M370,350 L375,390 Q400,440 520,490 L535,470 L520,430 L370,345 M350,340 Q345,400 380,430 L510,505 L545,490 M520,360 L530,420 L600,445 L610,400 L670,430 L670,400 L640,380 L590,380 M540,360 L545,395 L580,400 L590,380 M530,430 L545,520 M615,280 L640,380 M770,360 L775,420 M690,410 L710,410 L715,440 L690,470 Z M670,470 L725,490 L720,470 M750,450 L800,440 L810,480 L780,465 L755,460 M810,410 L815,440 L850,405 M845,410 L850,465 L880,450 M880,480 Q840,500 810,490 M760,505 L810,490 M540,235 L540,365 M480,225 L490,260 L480,260 Z"/>
<ellipse cx="305" cy="268" rx="55" ry="30" transform="rotate(28 305 268)"/>
<ellipse cx="390" cy="297" rx="18" ry="30" transform="rotate(-10 390 297)"/><ellipse cx="390" cy="297" rx="10" ry="22" transform="rotate(-10 390 297)"/>
<circle cx="365" cy="325" r="8" class="k"/>
<path class="n" d="M560,485 Q620,480 670,530 Q690,570 660,600 Q620,610 590,570 Q550,520 560,485 Z M430,250 Q450,235 480,280 Q470,290 440,265"/>
<path class="d" d="M530,240 L550,330 M540,240 L560,330 M620,280 L650,400"/>
<path class="d" d="M125,-5 L200,40 M145,25 L200,60 M250,90 L300,120 M315,125 L340,140 M355,150 L415,185" stroke-dasharray="9 3"/>
<path class="n" stroke-width="1" d="M140,25 L200,60 M250,95 L305,125 M360,155 L412,188"/>
<circle cx="690" cy="516" r="5" class="k"/><circle cx="768" cy="510" r="7"/><ellipse cx="568" cy="582" rx="8" ry="14" transform="rotate(-30 568 582)"/>
<path class="k" d="M105,95 L130,105 L125,115 L105,105Z"/>
<!-- grip panels -->
<path class="h" d="M568,632 Q620,625 665,660 Q680,680 675,720 Q660,810 622,880"/>
<path class="h" d="M710,695 Q680,760 665,860 Q660,900 680,925 L740,975 Q790,990 795,970 Q800,900 780,820 Q760,730 730,700 Q715,695 710,695 Z"/>
<path class="h" d="M765,690 Q770,680 800,665 Q840,650 850,635 Q900,800 920,965 Q890,1005 860,1000 Q840,990 830,960 Q800,780 765,690 Z"/>
<path class="n" stroke-width="1.8" d="M712,915 Q735,905 750,930 L760,895 M735,905 L760,920 Q780,930 765,955 L745,960 M720,925 Q730,950 750,950"/>
<path class="n" stroke="#999" d="M630,930 Q720,960 790,1040 M780,1040 L830,1068"/>
<!-- small parts -->
<path d="M125,345 L165,392 M200,458 L232,438 M210,512 L255,490 M355,605 L405,630 M230,730 L265,755 M335,770 L320,848 M445,845 L420,885"/>
<path d="M105,440 L130,410 L185,385 L225,375 L233,395 L150,450 L115,462 Z"/>
<path class="n" d="M130,410 L145,430 L193,395 L185,385 M120,430 L125,460 M110,445 L120,462"/>
<path class="k" d="M105,440 L115,432 L122,462 L112,463Z"/>
<ellipse cx="178" cy="458" rx="15" ry="9"/><path d="M163,458 L168,480 Q180,488 190,480 L193,458"/>
<path class="k" d="M175,505 L205,505 L208,540 L178,545 Z"/><path d="M175,512 L207,510 M175,520 L207,518 M175,528 L207,526 M176,536 L207,534" stroke="#fff"/>
<path d="M350,665 L440,610 L490,600 L510,620 L490,635 L440,650 L395,690 L360,700 Z"/>
<ellipse cx="472" cy="622" rx="20" ry="9" transform="rotate(-10 472 622)"/><path class="k" d="M348,668 L385,682 L388,698 L360,700 Z"/><text transform="translate(400,657) rotate(-28)" style="font:bold 16px 'Liberation Sans',sans-serif" fill="#111" stroke="none">9mm</text>
<path d="M220,780 L330,718 Q338,720 335,728 L228,792 Q216,792 220,780 Z"/><ellipse cx="223" cy="786" rx="4" ry="7" class="k"/>
<path d="M295,775 L398,715 Q406,718 404,726 L302,787 Q292,788 295,775 Z"/><path class="n" stroke-width="2.4" d="M300,774 L400,718"/><ellipse cx="298" cy="781" rx="4" ry="7" class="k"/>
<path d="M435,756 L443,755 L476,915 L466,917 Z"/>
</g>

<!-- Labels -->
<g class="l" fill="#2a2a2a" stroke="none">
<text x="562" y="43">1.06</text><text x="562" y="73">1.05</text><text x="562" y="102">1.04</text><text x="562" y="136">1.03</text><text x="562" y="171">1.01</text><text x="596" y="269">1.02</text><text x="830" y="170">1.02</text><text x="812" y="198">1.07</text><text x="979" y="163">1.08</text><text x="965" y="238">1.09</text><text x="749" y="316">1.11</text><text x="749" y="347">1.10</text><text x="850" y="355">1.13</text><text x="808" y="394">1.12</text><text x="930" y="394">1.19</text><text x="899" y="414">1.20</text><text x="966" y="303">(2x)</text><text x="1000" y="303">1.14</text><text x="1004" y="335">1.15</text><text x="1055" y="358">1.16</text><text x="1091" y="375">1.17</text><text x="1135" y="404">1.18</text>
<text x="670" y="355">2</text><text x="338" y="307">3.01</text><text x="450" y="379">3.02</text><text x="581" y="448">3.03</text><text x="697" y="517">3.04</text><text x="799" y="579">3.05</text><text x="399" y="509">7</text>
<text x="432" y="720">6.01</text><text x="585" y="675">5.01</text><text x="468" y="836">5.02</text><text x="626" y="826">5.02</text><text x="497" y="994">6.02</text><text x="647" y="953">5.03</text><text x="679" y="1117">5.04</text><text x="521" y="1161">5.04</text><text x="683" y="1163">5.05</text><text x="532" y="1213">6.03</text>
<text x="973" y="502">4.02</text><text x="940" y="555">4.03</text><text x="902" y="602">4.04</text><text x="1051" y="634">4.05</text><text x="1043" y="512">4.06</text><text x="1163" y="448">4.07</text><text x="1206" y="432">4.08</text><text x="1288" y="502">4.09</text><text x="1257" y="568">4.10</text><text x="1163" y="568">(2x)</text><text x="1195" y="568">4.11</text><text x="1064" y="487">4.12</text><text x="1095" y="469">4.13</text><text x="1112" y="636">4.14</text><text x="1138" y="740">4.15</text><text x="1080" y="672">4.16</text><text x="1108" y="658">4.17</text><text x="1178" y="593">4.18</text><text x="1270" y="614">4.19</text><text x="1182" y="623">4.20</text><text x="1248" y="659">4.21</text><text x="1275" y="685">4.22</text>
<text x="751" y="625">4.01</text><text x="812" y="713">4.23</text><text x="875" y="747">4.24</text><text x="885" y="768">4.25</text><text x="896" y="797">4.26</text><text x="771" y="757">4.28</text><text x="857" y="837">4.29</text><text x="882" y="897">4.30</text><text x="919" y="911">4.27</text>
</g>
</svg>

<div class="col" style="left:1576px;top:91px">
<div><span>1</span>SLIDE ASSEMBLY</div>
<div><span>1.01</span>SLIDE</div>
<div><span>1.02</span>REAR SIGHT SCREW / FRONT SIGHT SCREW</div>
<div><span>1.03</span>FRONT SIGHT - SMALL</div>
<div><span>1.04</span>FRONT SIGHT - LOW</div>
<div><span>1.05</span>FRONT SIGHT</div>
<div><span>1.06</span>FRONT SIGHT - HIGH</div>
<div><span>1.07</span>REAR SIGHT</div>
<div><span>1.08</span>EXTRACTOR</div>
<div><span>1.09</span>EXTRACTOR SPRING</div>
<div><span>1.10</span>FIRING PIN BLOCK</div>
<div><span>1.11</span>FIRING PIN BLOCK SPRING</div>
<div><span>1.12</span>EXTRACTOR PIN</div>
<div><span>1.13</span>EXTRACTOR PIN SPRING</div>
<div><span>1.14</span>FIRING PIN SPRING SLEEVE</div>
<div><span>1.15</span>FIRING PIN SPRING</div>
<div><span>1.16</span>ORANGE FIRING PIN SLEEVE</div>
<div><span>1.17</span>FIRING PIN RETURN SPRING</div>
<div><span>1.18</span>FIRING PIN</div>
<div><span>1.19</span>SLIDE CAP</div>
<div><span>1.2</span>SLIDE CAP PLATE</div>
<div><span>2</span>BARREL</div>
<div><span>3</span>RECOIL SPRING ASSEMBLY</div>
<div><span>3.01</span>INTERNAL RECOIL SPRING GUIDE</div>
<div><span>3.02</span>EXTERNAL RECOIL SPRING</div>
<div><span>3.03</span>EXTERNAL RECOIL SPRING GUIDE</div>
<div><span>3.04</span>INTERNAL RECOIL SPRING</div>
<div><span>3.05</span>RECOIL SPRING GUIDE SCREW</div>
<div><span>4</span>GRIP ASSEMBLY</div>
<div><span>4.01</span>GRIP</div>
<div><span>4.02</span>CENTRAL SUPPORT</div>
<div><span>4.03</span>CENTRAL SUPPORT BUSHING</div>
<div><span>4.04</span>SLIDE CATCH SPRING</div>
<div><span>4.05</span>SLIDE CATCH</div>
<div><span>4.06</span>CENTRAL SUPPORT PIN</div>
</div>
<div class="col" style="left:2207px;top:95px">
<div><span style="width:63px">4.07</span>TRIGGER</div>
<div><span style="width:63px">4.08</span>TRIGGER BUSHING</div>
<div><span style="width:63px">4.09</span>TRIGGER BAR</div>
<div><span style="width:63px">4.10</span>TRIGGER BAR SPRING</div>
<div><span style="width:63px">4.11</span>TRIGGER PIN</div>
<div><span style="width:63px">4.12</span>TRIGGER SAFETY</div>
<div><span style="width:63px">4.13</span>TRIGGER SAFETY SPRING</div>
<div><span style="width:63px">4.14</span>REAR SUPPORT</div>
<div><span style="width:63px">4.15</span>MANUAL SAFETY</div>
<div><span style="width:63px">4.16</span>MANUAL SAFETY SPHERE</div>
<div><span style="width:63px">4.17</span>MANUAL SAFETY SPRING</div>
<div><span style="width:63px">4.18</span>EJECTOR</div>
<div><span style="width:63px">4.19</span>DISCONNECTER</div>
<div><span style="width:63px">4.20</span>SEAR GUIDE PIN</div>
<div><span style="width:63px">4.21</span>SEAR</div>
<div><span style="width:63px">4.22</span>SEAR SPRING</div>
<div><span style="width:63px">4.23</span>DISASSEMBLING LATCH</div>
<div><span style="width:63px">4.24</span>DISASSEMBLING LATCH PIN</div>
<div><span style="width:63px">4.25</span>DISASSEMBLING LATCH PIN SPRING</div>
<div><span style="width:63px">4.26</span>MAGAZINE RELEASE</div>
<div><span style="width:63px">4.27</span>MAGAZINE RELEASE SPRING</div>
<div><span style="width:63px">4.28</span>SPIROL PIN - CLDP 3X24 HBK</div>
<div><span style="width:63px">4.29</span>SPIROL PIN - CLDP 2X24 HBK</div>
<div><span style="width:63px">4.30</span>SPIROL PIN - CLDP 2,5X22 HBK</div>
<div><span style="width:63px">5</span>MAGAZINE ASSEMBLY 15 ROUNDS</div>
<div><span style="width:63px">5.01</span>MAGAZINE BODY 15 ROUNDS</div>
<div><span style="width:63px">5.02</span>FOLLOWER</div>
<div><span style="width:63px">5.03</span>MAGAZINE SPRING 15 ROUNDS</div>
<div><span style="width:63px">5.04</span>MAGAZINE SPRING PLATE</div>
<div><span style="width:63px">5.05</span>MAGAZINE BOTTOM 15 ROUNDS</div>
<div><span style="width:63px">6</span>MAGAZINE ASSEMBLY 17 ROUNDS</div>
<div><span style="width:63px">6.01</span>MAGAZINE BODY 17 ROUNDS</div>
<div><span style="width:63px">6.02</span>MAGAZINE SPRING 17 ROUNDS</div>
<div><span style="width:63px">6.03</span>MAGAZINE BOTTOM 17ROUNDS</div>
<div><span style="width:63px">7</span>MAGAZINE SLEEVE 17ROUNDS</div>
</div>
</body></html>
